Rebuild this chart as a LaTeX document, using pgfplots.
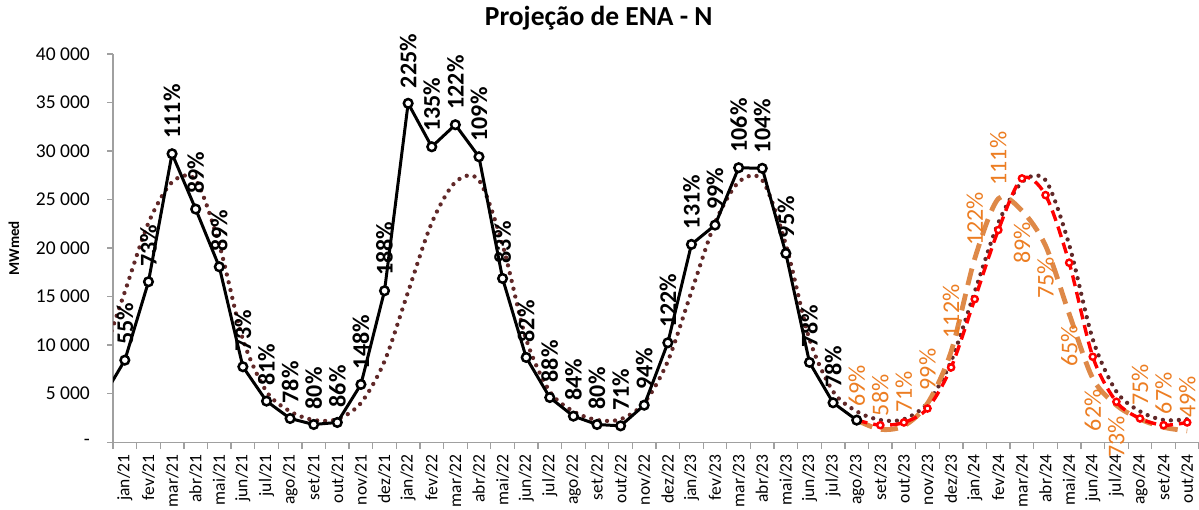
\documentclass[border=0pt]{standalone}
\usepackage{fontspec}
\setmainfont{Carlito}
\usepackage{pgfplots}
\pgfplotsset{compat=1.18}
\definecolor{mlt}{RGB}{96,40,40}
\definecolor{orgline}{RGB}{222,137,72}
\definecolor{orglab}{RGB}{236,125,34}
\definecolor{axgray}{RGB}{160,160,160}
\begin{document}
\begin{tikzpicture}[x=1pt,y=1pt]
\begin{axis}[name=ax, at={(0,0)}, anchor=south west,
  width=1085.6pt, height=388pt, scale only axis,
  xmin=-0.5, xmax=45.5, ymin=0, ymax=40000,
  scaled y ticks=false,
  axis x line*=bottom, axis y line*=left,
  axis line style={axgray, line width=1.3pt},
  clip mode=individual,
  xtick={0,...,45},
  xticklabels={jan/21,fev/21,mar/21,abr/21,mai/21,jun/21,jul/21,ago/21,set/21,out/21,nov/21,dez/21,
    jan/22,fev/22,mar/22,abr/22,mai/22,jun/22,jul/22,ago/22,set/22,out/22,nov/22,dez/22,
    jan/23,fev/23,mar/23,abr/23,mai/23,jun/23,jul/23,ago/23,set/23,out/23,nov/23,dez/23,
    jan/24,fev/24,mar/24,abr/24,mai/24,jun/24,jul/24,ago/24,set/24,out/24},
  major x tick style={draw=none},
  minor xtick={-0.5,0.5,...,45.5},
  minor x tick style={axgray, line width=1.3pt},
  minor tick length=7pt,
  tick align=outside,
  ytick={0,5000,...,40000},
  yticklabels={-,5 000,10 000,15 000,20 000,25 000,30 000,35 000,40 000},
  major y tick style={axgray, line width=1.3pt},
  major tick length=6pt,
  xticklabel style={rotate=90, anchor=east, inner xsep=6pt, inner ysep=0pt, font=\fontsize{17.5}{17.5}\selectfont},
  yticklabel style={anchor=east, inner xsep=17pt, font=\fontsize{19.5}{19.5}\selectfont},
  ylabel={MWmed},
  ylabel style={at={(axis description cs:-0.0912,0.5)}, anchor=center, font=\bfseries\fontsize{15}{15}\selectfont},
]
% MLT (dotted)
\addplot[mlt, line width=4.3pt, line cap=round, dash pattern=on 0pt off 8pt, smooth] coordinates {
 (-1,8340) (0,15500) (1,22600) (2,26800) (3,27000) (4,20350) (5,10600) (6,5220) (7,3170) (8,2280) (9,2360) (10,4030) (11,8340)
 (12,15500) (13,22600) (14,26800) (15,27000) (16,20350) (17,10600) (18,5220) (19,3170) (20,2280) (21,2360) (22,4030) (23,8340)
 (24,15500) (25,22600) (26,26800) (27,27000) (28,20350) (29,10600) (30,5220) (31,3170) (32,2280) (33,2360) (34,4030) (35,8340)
 (36,15500) (37,22600) (38,26800) (39,27000) (40,20350) (41,10600) (42,5220) (43,3170) (44,2280) (45,2360)
};
% orange scenario
\addplot[orgline, line width=4.8pt, dash pattern=on 17pt off 9pt, smooth] coordinates {
 (31,2270) (32,1320) (33,1680) (34,3990) (35,9340) (36,18900) (37,25090) (38,23850) (39,20250) (40,13230) (41,6570) (42,3810) (43,2380) (44,1530) (45,1160)
};
% red projection
\addplot[red, line width=3.4pt, dash pattern=on 11pt off 6pt, smooth, mark=*, mark size=3.1pt,
  mark options={solid, fill=white, draw=red, line width=2.4pt}] coordinates {
 (31,2270) (32,1750) (33,2030) (34,3470) (35,7700) (36,14740) (37,21860) (38,27180) (39,25460) (40,18490) (41,8800) (42,4160) (43,2440) (44,1750) (45,2030)
};
% realized lead-in (clipped)
\addplot[black, line width=3pt] coordinates {(-1,4330) (0,8450)};
% realized
\addplot[black, line width=3pt, mark=*, mark size=4.3pt,
  mark options={fill=white, draw=black, line width=2.5pt},
  point meta=explicit symbolic,
  nodes near coords,
  every node near coord/.append style={rotate=90, anchor=west, inner xsep=14pt, inner ysep=0pt, black, font=\bfseries\fontsize{24}{24}\selectfont}]
 coordinates {
 (0,8450)[55\%] (1,16530)[73\%] (2,29720)[111\%] (3,24020)[89\%] (4,18070)[89\%] (5,7770)[73\%] (6,4230)[81\%] (7,2440)[78\%] (8,1820)[80\%] (9,2030)[86\%] (10,5950)[148\%] (11,15600)[188\%]
 (12,34920)[225\%] (13,30440)[135\%] (14,32710)[122\%] (15,29410)[109\%] (16,16870)[83\%] (17,8730)[82\%] (18,4600)[88\%] (19,2680)[84\%] (20,1820)[80\%] (21,1680)[71\%] (22,3810)[94\%] (23,10240)[122\%]
 (24,20380)[131\%] (25,22370)[99\%] (26,28280)[106\%] (27,28220)[104\%] (28,19450)[95\%] (29,8220)[78\%] (30,4060)[78\%] (31,2270)[]
};
% orange labels above
\addplot[draw=none, point meta=explicit symbolic, nodes near coords,
  every node near coord/.append style={rotate=90, anchor=west, inner xsep=13pt, inner ysep=0pt, orglab, font=\fontsize{24}{24}\selectfont}]
 coordinates {
 (31,2270)[69\%] (32,1320)[58\%] (33,1680)[71\%] (34,3990)[99\%] (35,9340)[112\%] (36,18900)[122\%] (37,25090)[111\%] (43,2380)[75\%] (44,1530)[67\%] (45,1160)[49\%]
};
% orange labels below
\addplot[draw=none, point meta=explicit symbolic, nodes near coords,
  every node near coord/.append style={rotate=90, anchor=east, inner xsep=11pt, inner ysep=0pt, orglab, font=\fontsize{24}{24}\selectfont}]
 coordinates {
 (38,23850)[89\%] (39,20250)[75\%] (40,13230)[65\%] (41,6570)[62\%] (42,3810)[73\%]
};
\end{axis}
\node[anchor=base, font=\bfseries\fontsize{27.5}{27.5}\selectfont, inner sep=0pt] at ([shift={(485.5pt,29pt)}]ax.north west) {Projeção de ENA - N};
\pgfresetboundingbox
\path ([shift={(-113pt,-67pt)}]ax.south west) rectangle ([shift={(0pt,54pt)}]ax.north east);
\end{tikzpicture}
\end{document}
